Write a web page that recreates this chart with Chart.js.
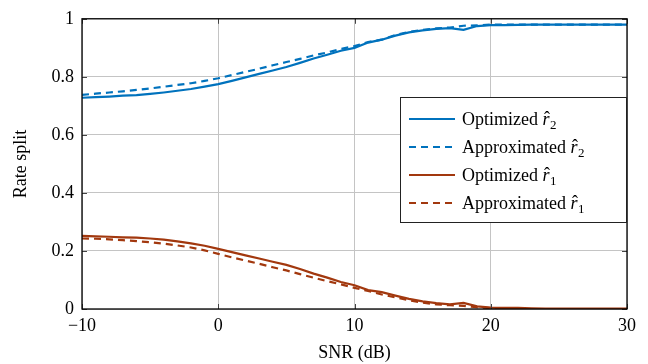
<!DOCTYPE html>
<html>
<head>
<meta charset="utf-8">
<script src="https://cdn.jsdelivr.net/npm/chart.js@4"></script>
<style>
  html, body { margin: 0; padding: 0; background: #fff; }
  #wrap { width: 648px; height: 364px; }
</style>
</head>
<body>
<div id="wrap"><canvas id="rate-chart"></canvas></div>
<script>
// DATA //

const snr = [-10, -9, -8, -7, -6, -5, -4, -3, -2, -1, 0, 1, 2, 3, 4, 5, 6, 7, 8, 9, 10,
  11, 12, 13, 14, 15, 16, 17, 18, 19, 20, 21, 22, 23, 24, 25, 26, 27, 28, 29, 30];

const optR2 = [0.728, 0.730, 0.732, 0.735, 0.737, 0.741, 0.746, 0.752, 0.758, 0.766, 0.775,
  0.786, 0.798, 0.810, 0.822, 0.834, 0.848, 0.863, 0.876, 0.890, 0.900,
  0.918, 0.928, 0.942, 0.953, 0.960, 0.965, 0.968, 0.962, 0.975, 0.978,
  0.978, 0.979, 0.980, 0.980, 0.980, 0.980, 0.980, 0.980, 0.980, 0.980];

const apxR2 = [0.738, 0.742, 0.746, 0.750, 0.755, 0.760, 0.766, 0.772, 0.778, 0.786, 0.795,
  0.806, 0.817, 0.828, 0.840, 0.851, 0.862, 0.874, 0.884, 0.896, 0.906,
  0.920, 0.928, 0.944, 0.955, 0.962, 0.967, 0.970, 0.976, 0.977, 0.980,
  0.980, 0.980, 0.980, 0.980, 0.980, 0.980, 0.980, 0.980, 0.980, 0.980];

const optR1 = [0.252, 0.250, 0.249, 0.247, 0.246, 0.243, 0.239, 0.233, 0.226, 0.218, 0.207,
  0.196, 0.185, 0.174, 0.163, 0.152, 0.138, 0.122, 0.108, 0.093, 0.082,
  0.065, 0.058, 0.046, 0.035, 0.026, 0.020, 0.016, 0.021, 0.009, 0.005,
  0.004, 0.004, 0.002, 0.001, 0.001, 0.001, 0.001, 0.001, 0.001, 0.001];

const apxR1 = [0.243, 0.242, 0.240, 0.237, 0.234, 0.230, 0.225, 0.219, 0.212, 0.202, 0.190,
  0.178, 0.167, 0.156, 0.144, 0.133, 0.120, 0.108, 0.096, 0.085, 0.073,
  0.062, 0.050, 0.040, 0.030, 0.022, 0.016, 0.013, 0.011, 0.006, 0.003,
  0.002, 0.001, 0, 0, 0, 0, 0, 0, 0, 0];

const seriesNames = ['Optimized', 'Approximated', 'Optimized', 'Approximated'];
const seriesSubs = ['2', '2', '1', '1'];

const blue = '#0072BD';
const brown = '#A2380E';
const serif = '"Liberation Serif", "Times New Roman", serif';

function pts(ys) {
  return snr.map((x, i) => ({ x: x, y: ys[i] }));
}

// FRAME, INNER TICKS AND LEGEND //

const framePlugin = {
  id: 'frame',
  afterDatasetsDraw(chart) {
    const ctx = chart.ctx;
    const a = chart.chartArea;
    const xs = chart.scales.x;
    const ys = chart.scales.y;
    ctx.save();
    ctx.strokeStyle = '#444';
    ctx.lineWidth = 1;
    ctx.beginPath();
    xs.ticks.forEach(t => {
      const px = Math.round(xs.getPixelForValue(t.value)) + 0.5;
      ctx.moveTo(px, a.bottom); ctx.lineTo(px, a.bottom - 5);
      ctx.moveTo(px, a.top); ctx.lineTo(px, a.top + 5);
    });
    ys.ticks.forEach(t => {
      const py = Math.round(ys.getPixelForValue(t.value)) + 0.5;
      ctx.moveTo(a.left, py); ctx.lineTo(a.left + 5, py);
      ctx.moveTo(a.right, py); ctx.lineTo(a.right - 5, py);
    });
    ctx.stroke();
    ctx.strokeStyle = '#000';
    ctx.lineWidth = 1.3;
    ctx.strokeRect(a.left, a.top, a.right - a.left, a.bottom - a.top);

    // legend box
    const bx = 400, by = 97, bw = a.right - 400, bh = 126;
    ctx.fillStyle = '#fff';
    ctx.fillRect(bx, by, bw, bh);
    ctx.strokeStyle = '#222';
    ctx.lineWidth = 1;
    ctx.strokeRect(bx + 0.5, by + 0.5, bw - 1, bh - 1);
    chart.data.datasets.forEach((ds, i) => {
      const cy = by + 22 + i * 28;
      ctx.strokeStyle = ds.borderColor;
      ctx.lineWidth = 2.2;
      ctx.setLineDash(ds.borderDash || []);
      ctx.beginPath();
      ctx.moveTo(409, cy); ctx.lineTo(455, cy);
      ctx.stroke();
      ctx.setLineDash([]);
      ctx.fillStyle = '#000';
      ctx.textBaseline = 'alphabetic';
      ctx.textAlign = 'left';
      ctx.font = '18px ' + serif;
      const base = cy + 6;
      const name = seriesNames[i] + ' ';
      ctx.fillText(name, 462, base);
      let x = 462 + ctx.measureText(name).width;
      ctx.font = 'italic 18px ' + serif;
      ctx.fillText('r', x, base);
      const rw = ctx.measureText('r').width;
      ctx.font = '18px ' + serif;
      ctx.textAlign = 'center';
      ctx.fillText('\u02C6', x + rw / 2 + 1, base - 1);
      ctx.textAlign = 'left';
      ctx.font = '13px ' + serif;
      ctx.fillText(seriesSubs[i], x + rw + 0.5, base + 4);
    });
    ctx.restore();
  }
};

// CHART //

const rateCanvas = document.getElementById('rate-chart');

const rateData = {
  datasets: [
    { label: 'Optimized r̂2', data: pts(optR2), borderColor: blue, borderWidth: 2.2 },
    { label: 'Approximated r̂2', data: pts(apxR2), borderColor: blue, borderWidth: 2.2, borderDash: [7, 5] },
    { label: 'Optimized r̂1', data: pts(optR1), borderColor: brown, borderWidth: 2.2 },
    { label: 'Approximated r̂1', data: pts(apxR1), borderColor: brown, borderWidth: 2.2, borderDash: [7, 5] }
  ]
};

const rateOptions = {
  responsive: true,
  maintainAspectRatio: false,
  animation: false,
  layout: { padding: { left: 0, right: 21, top: 15, bottom: 0 } },
  elements: { point: { radius: 0 }, line: { tension: 0, fill: false } },
  scales: {
    x: {
      type: 'linear',
      min: -10,
      max: 30,
      afterFit(s) { s.height = 55; },
      border: { display: false },
      grid: { color: '#c4c4c4', lineWidth: 1, drawTicks: false },
      ticks: {
        stepSize: 10,
        padding: 6,
        color: '#000',
        font: { family: serif, size: 18 },
        callback: v => String(v).replace('-', '\u2212')
      },
      title: {
        display: true,
        text: 'SNR (dB)',
        color: '#000',
        font: { family: serif, size: 18 },
        padding: { top: 2, bottom: 0 }
      }
    },
    y: {
      min: 0,
      max: 1,
      afterFit(s) { s.width = 82; },
      border: { display: false },
      grid: { color: '#c4c4c4', lineWidth: 1, drawTicks: false },
      ticks: {
        stepSize: 0.2,
        padding: 8,
        color: '#000',
        font: { family: serif, size: 18 },
        callback: v => String(Math.round(v * 10) / 10)
      },
      title: {
        display: true,
        text: 'Rate split',
        color: '#000',
        font: { family: serif, size: 18 },
        padding: { top: 10, bottom: 0 }
      }
    }
  },
  plugins: {
    legend: { display: false },
    tooltip: { enabled: false }
  }
};

const rateChart = new Chart(rateCanvas, {
  type: 'line',
  data: rateData,
  options: rateOptions,
  plugins: [framePlugin]
});
</script>
</body>
</html>
